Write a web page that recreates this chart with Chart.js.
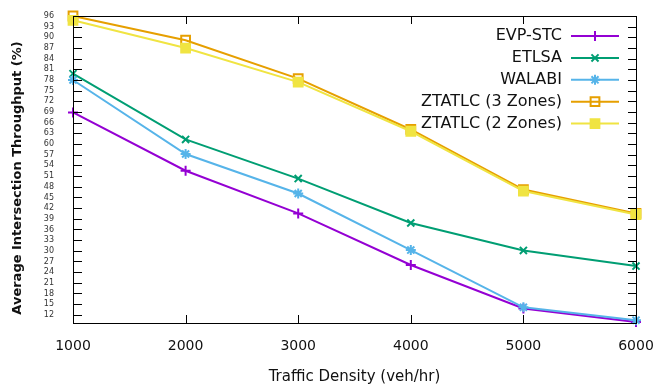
<!DOCTYPE html>
<html>
<head>
<meta charset="utf-8">
<script src="https://cdn.jsdelivr.net/npm/chart.js@4.4.0/dist/chart.umd.min.js"></script>
<style>
  html, body { margin: 0; padding: 0; background: #fff; }
  #wrap { width: 656px; height: 386px; }
</style>
</head>
<body>
<div id="wrap"><canvas id="chart" width="656" height="386"></canvas></div>
<script>
// Traffic density (veh/hr)
const densities = [1000, 2000, 3000, 4000, 5000, 6000];

// Average intersection throughput (%)
const evpStc = [68.9, 52.5, 40.5, 26.0, 13.8, 10.0];
const etlsa = [79.8, 61.3, 50.3, 37.8, 30.1, 25.7];
const walabi = [78.0, 57.2, 46.1, 30.2, 14.1, 10.5];
const ztatlc3 = [96.0, 89.2, 78.4, 64.1, 47.2, 40.5];
const ztatlc2 = [94.8, 87.0, 77.4, 63.6, 46.8, 40.2];

const seriesLabels = ['EVP-STC', 'ETLSA', 'WALABI', 'ZTATLC (3 Zones)', 'ZTATLC (2 Zones)'];
const seriesValues = [evpStc, etlsa, walabi, ztatlc3, ztatlc2];

// y tick labels 12, 15, ... 96
const yTickValues = [12, 15, 18, 21, 24, 27, 30, 33, 36, 39, 42, 45, 48, 51, 54,
  57, 60, 63, 66, 69, 72, 75, 78, 81, 84, 87, 90, 93, 96];

const colors = ['#9400d3', '#009e73', '#56b4e9', '#e69f00', '#f0e442'];
const markers = ['cross', 'crossRot', 'star', 'rect', 'rect'];
const markerSize = [5, 5, 5, 6.2, 6.2];
const markerFill = ['#9400d3', '#009e73', '#56b4e9', 'rgba(255,255,255,0)', '#f0e442'];

const datasets = seriesLabels.map((label, i) => ({
  label: label,
  data: densities.map((d, j) => ({ x: d, y: seriesValues[i][j] })),
  borderColor: colors[i],
  backgroundColor: markerFill[i],
  pointBorderColor: colors[i],
  pointBackgroundColor: markerFill[i],
  pointStyle: markers[i],
  pointRadius: markerSize[i],
  pointBorderWidth: 2,
  borderWidth: 2,
  tension: 0,
  clip: false,
  order: seriesLabels.length - i
}));

// box, inward ticks, y title and gnuplot-like legend
const framePlugin = {
  id: 'frame',
  afterDatasetsDraw(chart) {
    const { ctx, chartArea: a, scales } = chart;
    ctx.save();
    ctx.strokeStyle = '#000';
    ctx.lineWidth = 1;
    ctx.beginPath();
    scales.y.ticks.forEach(t => {
      const py = Math.round(scales.y.getPixelForValue(t.value)) + 0.5;
      ctx.moveTo(a.left, py); ctx.lineTo(a.left + 9, py);
      ctx.moveTo(a.right, py); ctx.lineTo(a.right - 8, py);
    });
    scales.x.ticks.forEach(t => {
      const px = Math.round(scales.x.getPixelForValue(t.value)) + 0.5;
      ctx.moveTo(px, a.bottom); ctx.lineTo(px, a.bottom - 8);
      ctx.moveTo(px, a.top); ctx.lineTo(px, a.top + 8);
    });
    ctx.stroke();
    ctx.strokeRect(Math.round(a.left) + 0.5, Math.round(a.top) + 0.5,
      Math.round(a.right - a.left), Math.round(a.bottom - a.top));

    // legend
    ctx.font = '16px "DejaVu Sans"';
    ctx.textAlign = 'right';
    ctx.textBaseline = 'middle';
    chart.data.datasets.forEach((ds, i) => {
      const ly = 36 + i * 21.9;
      ctx.fillStyle = '#111';
      ctx.fillText(ds.label, 562, ly);
      ctx.strokeStyle = ds.borderColor;
      ctx.lineWidth = 2;
      ctx.beginPath();
      ctx.moveTo(571, ly); ctx.lineTo(619, ly);
      ctx.stroke();
      ctx.fillStyle = ds.pointBackgroundColor;
      Chart.helpers.drawPoint(ctx, {
        pointStyle: ds.pointStyle,
        radius: ds.pointRadius,
        borderWidth: 2,
        rotation: 0
      }, 595, ly);
    });

    // y axis title
    ctx.translate(18, 178);
    ctx.rotate(-Math.PI / 2);
    ctx.font = 'bold 13px "DejaVu Sans"';
    ctx.textAlign = 'center';
    ctx.fillStyle = '#111';
    ctx.fillText('Average Intersection Throughput (%)', 0, 0);
    ctx.restore();
  }
};

new Chart(document.getElementById('chart'), {
  type: 'line',
  data: { datasets: datasets },
  options: {
    responsive: false,
    animation: false,
    layout: { padding: { top: 16, right: 20, left: 0, bottom: 0 } },
    plugins: {
      legend: { display: false },
      tooltip: { enabled: false }
    },
    scales: {
      x: {
        type: 'linear',
        min: 1000,
        max: 6000,
        grid: { display: false },
        border: { display: false },
        ticks: {
          stepSize: 1000,
          padding: 7,
          color: '#111',
          font: { family: 'DejaVu Sans', size: 14 },
          callback: v => String(v)
        },
        title: {
          display: true,
          text: 'Traffic Density (veh/hr)',
          color: '#111',
          font: { family: 'DejaVu Sans', size: 15 },
          padding: { top: 16, bottom: 0 }
        },
        afterFit: s => {
          s.height = 63;
          s.paddingLeft = 0;
          s.paddingRight = 0;
        }
      },
      y: {
        min: 9.7,
        max: 96,
        grid: { display: false },
        border: { display: false },
        afterBuildTicks: s => { s.ticks = yTickValues.map(v => ({ value: v })); },
        ticks: {
          padding: 11,
          color: '#333',
          font: { family: 'DejaVu Sans', size: 8 },
          autoSkip: false
        },
        afterFit: s => { s.width = 73; }
      }
    }
  },
  plugins: [framePlugin]
});
</script>
</body>
</html>
